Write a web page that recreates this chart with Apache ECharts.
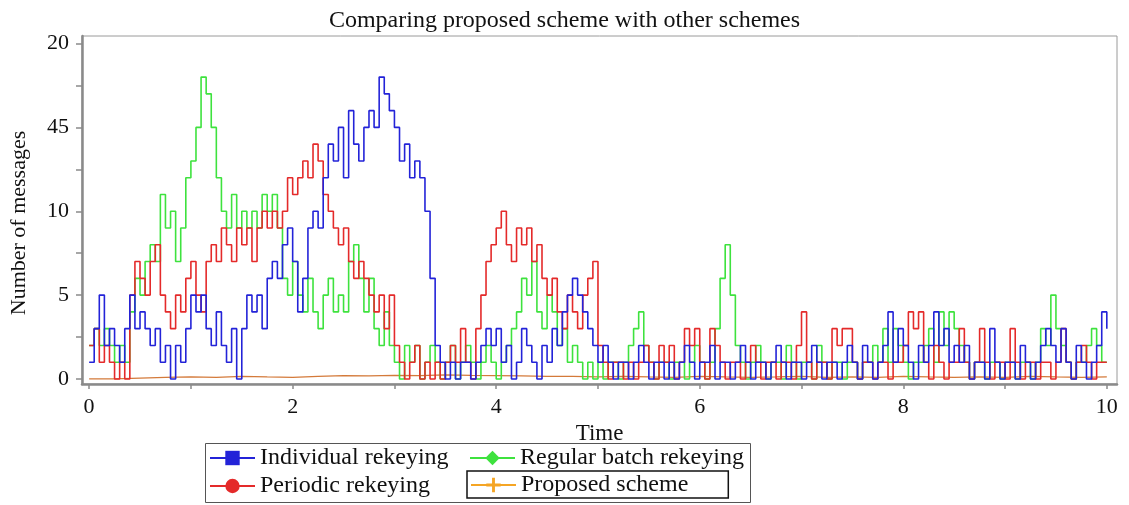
<!DOCTYPE html>
<html>
<head>
<meta charset="utf-8">
<script src="https://cdn.jsdelivr.net/npm/echarts@6/dist/echarts.min.js"></script>
<style>
html,body{margin:0;padding:0;background:#fff;}
#chart{width:1129px;height:505px;}
</style>
</head>
<body>
<div id="chart"></div>
<script>
// ---- data ----
const seriesNames = ['Individual rekeying', 'Regular batch rekeying', 'Periodic rekeying', 'Proposed scheme'];
const sampleStep = 0.05;   // time step of the three simulated curves (t = 0 .. 10)
const proposedStep = 0.25; // time step of the proposed-scheme curve

const individual = [
  1,3,5,2,3,2,1,3,5,3,
  4,3,2,3,1,2,0,2,1,3,
  5,4,5,3,2,4,2,1,3,0,
  3,5,4,5,3,6,7,6,8,9,
  7,4,6,9,10,9,12,14,13,15,
  12,16,14,13,15,16,15,18,17,16,
  15,13,14,12,13,12,10,6,2,1,
  0,1,0,1,1,0,1,2,3,2,
  3,1,2,0,1,3,2,1,0,2,
  1,3,2,4,5,6,5,4,3,2,
  1,2,1,0,1,1,0,1,2,1,
  0,1,1,0,1,0,1,2,1,0,
  1,1,2,0,1,1,0,1,2,1,
  0,1,1,0,1,2,1,0,1,1,
  0,1,2,1,0,1,1,0,1,2,
  1,0,2,1,0,1,2,4,1,3,
  2,1,0,2,1,2,4,2,3,1,
  2,1,2,0,1,1,0,3,1,0,
  1,1,0,2,1,0,1,2,3,2,
  1,3,1,0,2,1,0,1,2,4,
  3
];
const periodic = [
  2,3,1,2,1,0,1,0,5,7,
  6,5,7,8,5,4,3,5,4,6,
  7,5,4,7,8,7,9,8,7,9,
  8,9,7,9,10,9,10,9,10,12,
  11,12,13,12,14,13,11,10,9,8,
  9,7,6,7,6,5,4,5,3,5,
  2,1,0,1,2,0,1,0,1,0,
  1,2,1,3,1,0,3,5,7,8,
  9,10,8,7,9,8,9,7,8,6,
  5,6,4,3,5,4,3,5,6,7,
  2,1,0,1,1,0,1,0,1,2,
  1,0,2,1,2,0,1,3,2,3,
  1,0,3,2,1,0,1,1,0,1,
  2,1,0,1,1,0,1,1,0,2,
  4,1,0,1,1,0,3,2,3,3,
  1,0,1,1,0,1,1,0,1,1,
  2,4,3,4,1,0,2,1,0,1,
  1,3,1,0,1,3,1,0,1,1,
  0,3,1,0,1,1,0,1,1,0,
  1,3,1,0,1,2,1,0,1,1,
  1
];
const regularBatch = [
  2,3,2,3,2,1,2,1,4,6,
  5,7,8,7,11,9,10,7,9,12,
  13,15,18,17,15,12,10,9,11,9,
  10,9,10,9,11,10,11,9,6,5,
  7,5,4,6,4,3,5,6,4,5,
  4,7,8,6,4,6,3,2,4,2,
  1,0,2,1,2,0,1,2,1,0,
  1,2,0,1,2,1,0,1,2,1,
  0,1,2,3,4,6,5,7,4,3,
  5,4,2,3,1,2,1,0,1,0,
  1,0,1,1,0,1,2,3,4,2,
  1,0,1,1,0,1,1,0,1,2,
  1,0,1,3,6,8,5,2,1,0,
  1,2,1,0,1,1,0,2,1,0,
  1,1,0,2,1,0,1,1,0,1,
  1,0,1,1,2,1,3,1,3,2,
  1,0,1,1,2,3,1,4,2,4,
  3,2,1,0,1,1,0,1,1,0,
  1,1,0,1,1,0,1,3,2,5,
  3,2,1,0,1,1,2,3,2,1,
  1
];
const proposed = [
  0,0.05,0.1,0.12,0.1,0.15,0.12,0.1,0.15,0.2,
  0.18,0.22,0.2,0.25,0.22,0.2,0.18,0.15,0.15,0.12,
  0.15,0.12,0.1,0.15,0.12,0.1,0.12,0.15,0.1,0.12,
  0.1,0.15,0.12,0.1,0.12,0.1,0.15,0.12,0.1,0.12,
  0.1
];
const xTickValues = [0,1,2,3,4,5,6,7,8,9,10];
const xLabelValues = [0,2,4,6,8,10];
const yTickValues = [0,2.5,5,7.5,10,12.5,15,17.5,20];
const yLabelValues = [0,5,10,15,20];
const yLabelTexts = ['0','5','10','45','20'];

// ---- build ----
function pairs(vals, step) {
  return vals.map((v, i) => [+(i * step).toFixed(3), v]);
}
const colors = {
  blue: '#2323d8',
  green: '#3ee23e',
  red: '#e42a2a',
  orange: '#f5a524',
  orangeLine: '#d47a3a'
};
const serif = '"Liberation Serif", "DejaVu Serif", serif';
const plusPath = 'path://M4,0H6V4H10V6H6V10H4V6H0V4H4Z';

const chart = echarts.init(document.getElementById('chart'), null, {renderer: 'canvas'});

function lineSeries(name, data, color, lineColor, symbol, width, z) {
  return {
    name: name,
    type: 'line',
    data: data,
    step: 'end',
    showSymbol: false,
    symbol: symbol,
    symbolSize: 16,
    itemStyle: {color: color},
    lineStyle: {color: lineColor, width: width},
    z: z,
    silent: true
  };
}

function legendAt(name, left, top, extra) {
  return Object.assign({
    data: [name],
    left: left,
    top: top,
    itemWidth: 45,
    itemHeight: 18,
    itemGap: 6,
    padding: [2, 4],
    textStyle: {fontFamily: serif, fontSize: 24, color: '#111'},
    selectedMode: false
  }, extra || {});
}

chart.setOption({
  animation: false,
  backgroundColor: '#fff',
  title: {
    text: 'Comparing proposed scheme with other schemes',
    left: 'center',
    top: 4,
    textStyle: {fontFamily: serif, fontSize: 24, fontWeight: 'normal', color: '#111'}
  },
  grid: {
    left: 80, right: 12, top: 36, bottom: 121,
    show: true, borderColor: '#9a9a9a', borderWidth: 1
  },
  xAxis: {
    type: 'value',
    min: -0.07, max: 10.1,
    name: 'Time',
    nameLocation: 'middle',
    nameGap: 31,
    nameTextStyle: {fontFamily: serif, fontSize: 23, color: '#111'},
    axisLine: {onZero: false, lineStyle: {color: '#8a8a8a', width: 2.5}},
    axisTick: {customValues: xTickValues, length: 5, lineStyle: {color: '#8a8a8a', width: 1.5}},
    axisLabel: {customValues: xLabelValues, fontFamily: serif, fontSize: 22, color: '#111', margin: 12},
    splitLine: {show: false}
  },
  yAxis: {
    type: 'value',
    min: -0.3, max: 20.45,
    name: 'Number of messages',
    nameLocation: 'middle',
    nameGap: 52,
    nameRotate: 90,
    nameTextStyle: {fontFamily: serif, fontSize: 22, color: '#111', padding: [0, 26, 0, 0]},
    axisLine: {onZero: false, lineStyle: {color: '#8a8a8a', width: 2.5}},
    axisTick: {customValues: yTickValues, length: 6, lineStyle: {color: '#8a8a8a', width: 1.5}},
    axisLabel: {
      customValues: yLabelValues, fontFamily: serif, fontSize: 22, color: '#111', margin: 13,
      formatter: v => yLabelTexts[yLabelValues.indexOf(v)]
    },
    splitLine: {show: false}
  },
  legend: [
    legendAt(seriesNames[0], 205, 444),
    legendAt(seriesNames[1], 465, 444),
    legendAt(seriesNames[2], 205, 472),
    legendAt(seriesNames[3], 467, 471, {
      borderColor: '#111', borderWidth: 1.5, padding: [2, 40, 1, 3],
      lineStyle: {color: colors.orange, width: 2}
    })
  ],
  graphic: [{
    type: 'rect',
    left: 203, top: 441,
    shape: {width: 545, height: 59},
    style: {fill: 'none', stroke: '#555', lineWidth: 1},
    silent: true
  }],
  series: [
    lineSeries(seriesNames[3], pairs(proposed, proposedStep), colors.orange, colors.orangeLine, plusPath, 1.2, 1),
    lineSeries(seriesNames[1], pairs(regularBatch, sampleStep), colors.green, colors.green, 'diamond', 1.6, 2),
    lineSeries(seriesNames[2], pairs(periodic, sampleStep), colors.red, colors.red, 'circle', 1.6, 3),
    lineSeries(seriesNames[0], pairs(individual, sampleStep), colors.blue, colors.blue, 'rect', 1.6, 4)
  ]
});
</script>
</body>
</html>
